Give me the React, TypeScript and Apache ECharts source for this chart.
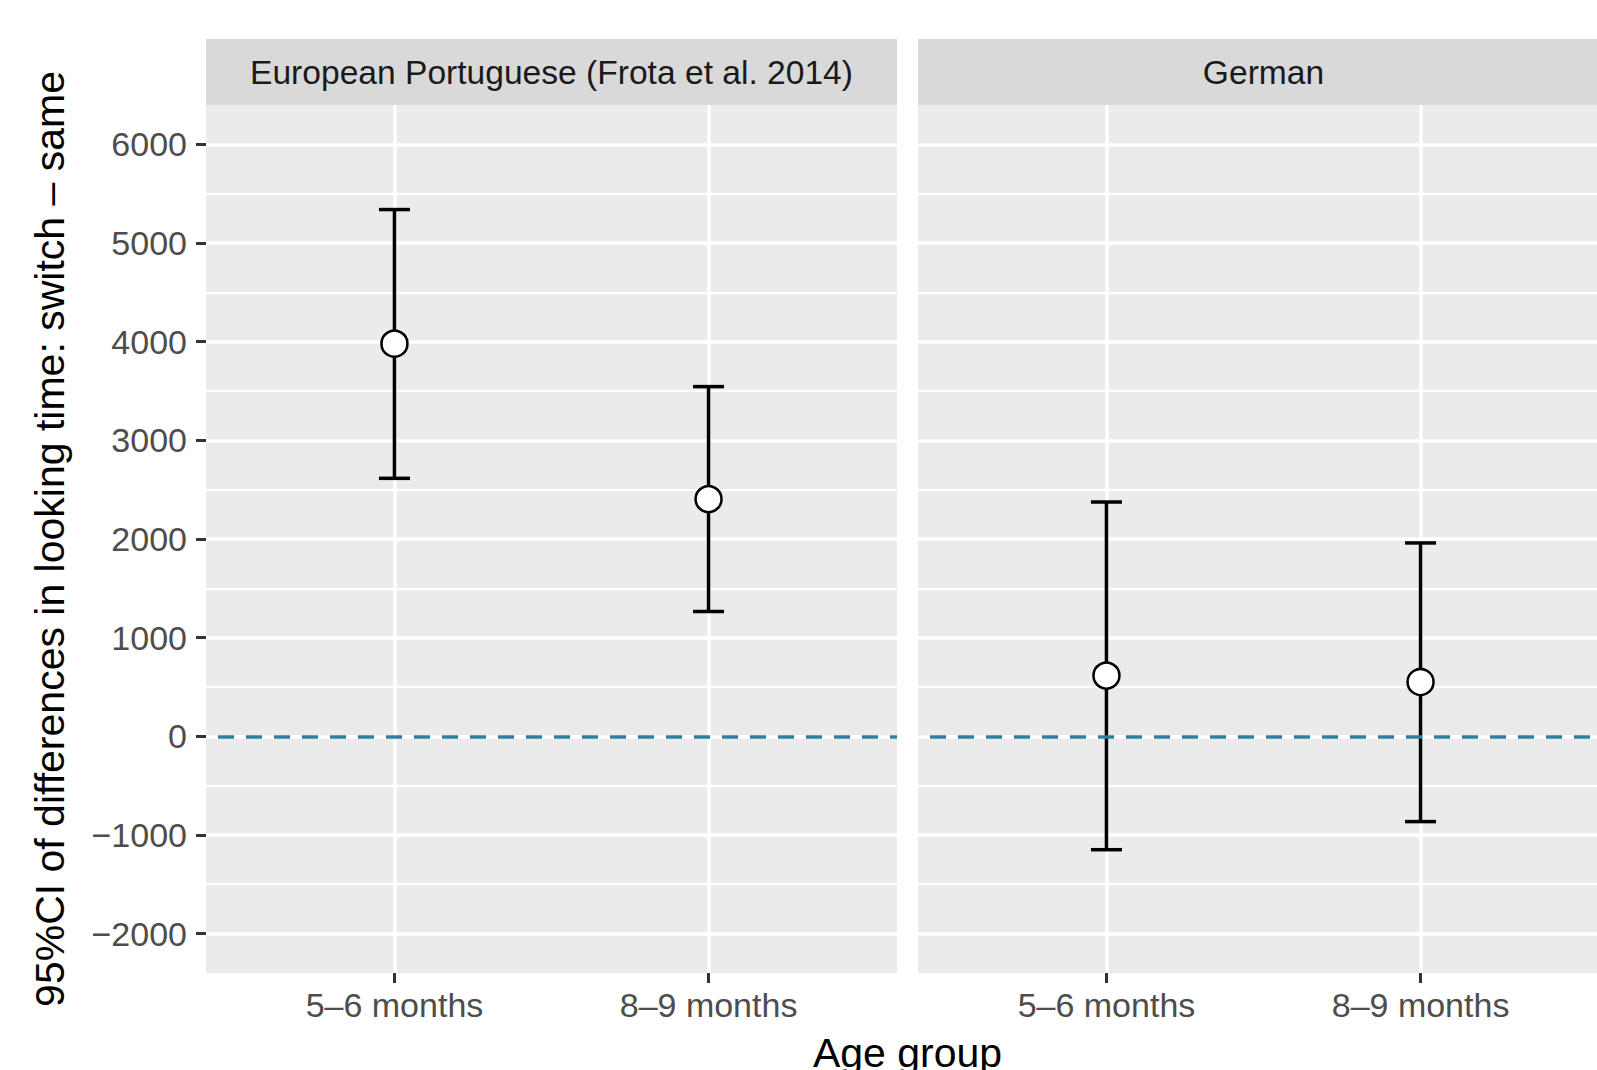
import React, { useEffect, useRef } from "react";
import * as echarts from "echarts";

const panels = ["European Portuguese (Frota et al. 2014)", "German"];
const ageGroups = ["5–6 months", "8–9 months"];
const agePositions = [1, 2];
const meanDiff = [
  [3980, 2405],
  [615, 550],
];
const ciLow = [
  [2615, 1265],
  [-1150, -865],
];
const ciHigh = [
  [5340, 3545],
  [2375, 1960],
];
const yMajorTicks = [-2000, -1000, 0, 1000, 2000, 3000, 4000, 5000, 6000];
const yMinorTicks = [-1500, -500, 500, 1500, 2500, 3500, 4500, 5500];
const yLimits = [-2400, 6400];
const xLimits = [0.4, 2.6];
const refLine = 0;

const FONT = "'Liberation Sans', Arial, Helvetica, sans-serif";
const PANEL_LEFT = [206, 918];
const PANEL_TOP = 105;
const PANEL_W = 691;
const PANEL_H = 868;

export default function App() {
  const ref = useRef<HTMLDivElement>(null);
  useEffect(() => {
    document.body.style.margin = "0";
    if (!ref.current) return;
    const chart = echarts.init(ref.current, undefined, { renderer: "svg" });

    const grids = PANEL_LEFT.map((l) => ({
      left: l,
      top: PANEL_TOP,
      width: PANEL_W,
      height: PANEL_H,
      show: true,
      backgroundColor: "#EBEBEB",
      borderWidth: 0,
      containLabel: false,
      outerBoundsMode: "none",
    }));

    const xAxes = PANEL_LEFT.map((_, i) => ({
      type: "value",
      gridIndex: i,
      position: "bottom",
      min: xLimits[0],
      max: xLimits[1],
      axisLine: { show: false, onZero: false },
      axisTick: {
        show: true,
        customValues: agePositions,
        length: 10,
        lineStyle: { color: "#333333", width: 3 },
      },
      axisLabel: {
        show: true,
        customValues: agePositions,
        formatter: (v: number) => ageGroups[Math.round(v) - 1] ?? "",
        fontSize: 34,
        fontFamily: FONT,
        color: "#4D4D4D",
        margin: 15,
      },
      splitLine: { show: true, lineStyle: { color: "#FFFFFF", width: 3.5 } },
    }));

    const yAxes: any[] = [];
    PANEL_LEFT.forEach((_, i) => {
      yAxes.push({
        type: "value",
        gridIndex: i,
        min: yLimits[0],
        max: yLimits[1],
        axisLine: { show: false, onZero: false },
        axisTick: {
          show: i === 0,
          customValues: yMajorTicks,
          length: 10,
          lineStyle: { color: "#333333", width: 3 },
        },
        axisLabel: {
          show: i === 0,
          customValues: yMajorTicks,
          formatter: (v: number) => (v < 0 ? "\u2212" + Math.abs(v) : String(v)),
          fontSize: 34,
          fontFamily: FONT,
          color: "#4D4D4D",
          margin: 19,
        },
        splitLine: { show: true, lineStyle: { color: "#FFFFFF", width: 3.5 } },
        z: 1,
      });
      yAxes.push({
        type: "value",
        gridIndex: i,
        min: yLimits[0],
        max: yLimits[1],
        axisLine: { show: false, onZero: false },
        axisTick: { show: false, customValues: yMinorTicks },
        axisLabel: { show: false, customValues: yMinorTicks },
        splitLine: { show: true, lineStyle: { color: "#FFFFFF", width: 1.8 } },
        z: 0,
      });
    });

    const series: any[] = [];
    PANEL_LEFT.forEach((_, i) => {
      series.push({
        type: "custom",
        xAxisIndex: i,
        yAxisIndex: i * 2,
        z: 3,
        encode: { x: 0, y: [1, 2] },
        data: agePositions.map((x, j) => [x, ciLow[i][j], ciHigh[i][j]]),
        renderItem: (params: any, api: any) => {
          const x = api.value(0);
          const lo = api.value(1);
          const hi = api.value(2);
          const pLo = api.coord([x, lo]);
          const pHi = api.coord([x, hi]);
          const hw = 15.5;
          const style = { stroke: "#000000", lineWidth: 3.5 };
          return {
            type: "group",
            children: [
              { type: "line", shape: { x1: pLo[0], y1: pLo[1], x2: pHi[0], y2: pHi[1] }, style },
              { type: "line", shape: { x1: pLo[0] - hw, y1: pLo[1], x2: pLo[0] + hw, y2: pLo[1] }, style },
              { type: "line", shape: { x1: pHi[0] - hw, y1: pHi[1], x2: pHi[0] + hw, y2: pHi[1] }, style },
            ],
          };
        },
      });
      series.push({
        type: "line",
        xAxisIndex: i,
        yAxisIndex: i * 2,
        data: [],
        z: 2,
        markLine: {
          silent: true,
          symbol: ["none", "none"],
          label: { show: false },
          lineStyle: { color: "#2F7E9E", width: 3.5, type: [16, 12], dashOffset: 16 },
          data: [{ yAxis: refLine }],
        },
      });
      series.push({
        type: "scatter",
        xAxisIndex: i,
        yAxisIndex: i * 2,
        z: 5,
        symbol: "circle",
        symbolSize: 26,
        itemStyle: { color: "#FFFFFF", borderColor: "#000000", borderWidth: 2.5, opacity: 1 },
        data: agePositions.map((x, j) => [x, meanDiff[i][j]]),
      });
    });

    const graphics: any[] = [];
    PANEL_LEFT.forEach((l, i) => {
      graphics.push({
        type: "rect",
        shape: { x: l, y: 39, width: PANEL_W, height: PANEL_TOP - 39 },
        style: { fill: "#D9D9D9" },
        silent: true,
      });
      graphics.push({
        type: "text",
        x: l + PANEL_W / 2,
        y: 72,
        style: {
          text: panels[i],
          font: `33.6px ${FONT}`,
          fill: "#1A1A1A",
          align: "center",
          verticalAlign: "middle",
        },
        silent: true,
      });
    });
    graphics.push({
      type: "text",
      x: 50,
      y: PANEL_TOP + PANEL_H / 2,
      rotation: Math.PI / 2,
      style: {
        text: "95%CI of differences in looking time: switch \u2013 same",
        font: `41px ${FONT}`,
        fill: "#000000",
        align: "center",
        verticalAlign: "middle",
      },
      silent: true,
    });
    graphics.push({
      type: "text",
      x: (PANEL_LEFT[0] + PANEL_LEFT[1] + PANEL_W) / 2,
      y: 1053,
      style: {
        text: "Age group",
        font: `41px ${FONT}`,
        fill: "#000000",
        align: "center",
        verticalAlign: "middle",
      },
      silent: true,
    });

    chart.setOption({
      animation: false,
      backgroundColor: "#FFFFFF",
      grid: grids,
      xAxis: xAxes,
      yAxis: yAxes,
      series,
      graphic: graphics,
    });
    return () => chart.dispose();
  }, []);
  return <div ref={ref} style={{ width: 1597, height: 1070 }} />;
}
